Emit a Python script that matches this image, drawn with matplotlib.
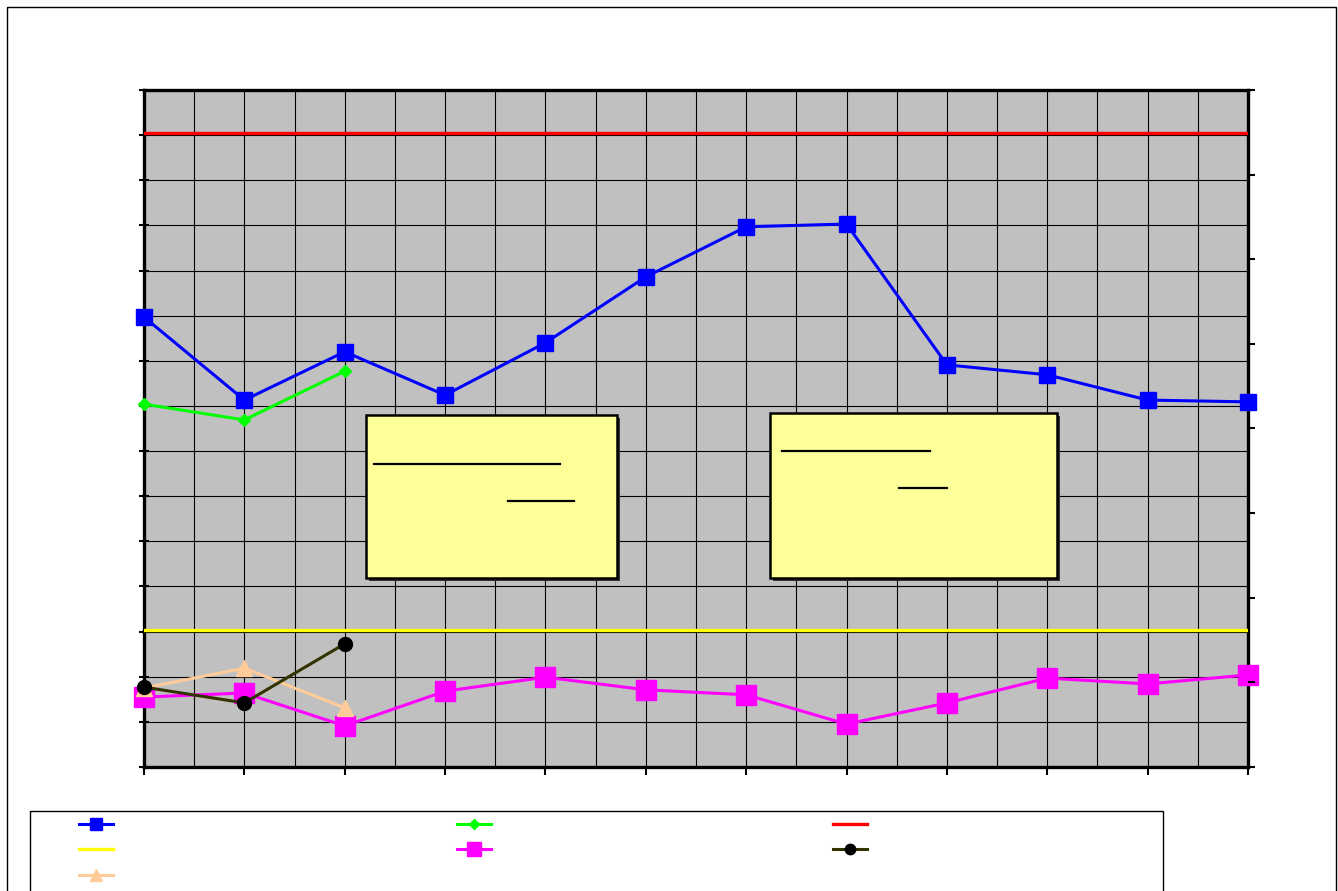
import matplotlib.pyplot as plt
from matplotlib.patches import Rectangle
from matplotlib.lines import Line2D
import numpy as np

# ── data ──────────────────────────────────────
x_idx = np.arange(12)

blue_vals    = [9.97, 8.13, 9.20, 8.24, 9.40, 10.86, 11.97, 12.03, 8.91, 8.69, 8.13, 8.09]
green_vals   = [8.04, 7.69, 8.77]
magenta_vals = [1.55, 1.64, 0.91, 1.68, 1.99, 1.71, 1.60, 0.95, 1.42, 1.97, 1.84, 2.04]
black_vals   = [1.77, 1.42, 2.73]
peach_vals   = [1.75, 2.19, 1.31]
upper_limit  = 14.05
lower_limit  = 3.04

# ── styles ────────────────────────────────────
STYLES = {
    "blue":    dict(color="#0000FF", marker="s", markersize=11.5, lw=2.2),
    "green":   dict(color="#00FF00", marker="D", markersize=6.5, lw=2.2),
    "red":     dict(color="#FF0000", marker=None, lw=2.4),
    "yellow":  dict(color="#FFFF00", marker=None, lw=2.4),
    "magenta": dict(color="#FF00FF", marker="s", markersize=14, lw=2.2),
    "black":   dict(color="#333300", marker="o", markersize=10, lw=2.2,
                    markerfacecolor="black", markeredgecolor="black"),
    "peach":   dict(color="#FFCC99", marker="^", markersize=12, lw=2.2),
}

W, H = 1338, 891
fig = plt.figure(figsize=(W / 100, H / 100), dpi=100)
fig.patch.set_facecolor("white")

ax = fig.add_axes([144 / W, 1 - 767 / H, (1248 - 144) / W, (767 - 90) / H])
ax.set_facecolor("#C0C0C0")
ax.set_xlim(0, 11)
ax.set_ylim(0, 15)

ax.set_xticks(np.arange(12))
ax.set_xticks(np.arange(0.5, 11, 1), minor=True)
ax.set_yticks(np.arange(16))
ax.grid(True, which="both", color="black", lw=0.8, zorder=1)
ax.set_axisbelow(True)
ax.tick_params(axis="x", which="major", direction="out", length=6, width=1.5,
               labelbottom=False)
ax.tick_params(axis="x", which="minor", length=0)
ax.tick_params(axis="y", direction="inout", length=7, width=1.5, labelleft=False)
for sp in ax.spines.values():
    sp.set_linewidth(2.4)

ax2 = ax.twinx()
ax2.set_ylim(0, 8)
ax2.set_yticks(np.arange(9))
ax2.tick_params(axis="y", direction="out", length=5, width=1.5, labelright=False)
for sp in ax2.spines.values():
    sp.set_visible(False)

# ── series ────────────────────────────────────
ax.axhline(upper_limit, **{k: v for k, v in STYLES["red"].items() if k != "marker"}, zorder=3)
ax.axhline(lower_limit, **{k: v for k, v in STYLES["yellow"].items() if k != "marker"}, zorder=3)
ax.plot(x_idx, blue_vals, zorder=4, clip_on=False, **STYLES["blue"])
ax.plot(x_idx[:3], green_vals, zorder=4, clip_on=False, **STYLES["green"])
ax.plot(x_idx, magenta_vals, zorder=4, clip_on=False, **STYLES["magenta"])
ax.plot(x_idx[:3], peach_vals, zorder=5, clip_on=False, **STYLES["peach"])
ax.plot(x_idx[:3], black_vals, zorder=5, clip_on=False, **STYLES["black"])

# ── overlay in pixel units: frame, note boxes, legend ──
ov = fig.add_axes([0, 0, 1, 1], zorder=10)
ov.set_xlim(0, W)
ov.set_ylim(H, 0)
ov.axis("off")
ov.patch.set_alpha(0)

ov.add_patch(Rectangle((7, 7), 1329, 950, fill=False, ec="black", lw=1))


def note_box(x0, y0, x1, y1, bars):
    ov.add_patch(Rectangle((x0 + 3, y0 + 3), x1 - x0, y1 - y0, fc="#333333", ec="none"))
    ov.add_patch(Rectangle((x0, y0), x1 - x0, y1 - y0, fc="#FFFF99", ec="black", lw=1.8))
    for bx0, bx1, by in bars:
        ov.plot([bx0, bx1], [by, by], color="black", lw=1.6)


note_box(366, 415, 617, 578, [(374, 560, 464), (508, 574, 501)])
note_box(770, 413, 1057, 578, [(782, 930, 451), (899, 947, 488)])

# legend frame and keys
ov.add_patch(Rectangle((30, 811), 1133, 120, fill=False, ec="black", lw=1))
legend_keys = [
    ("blue", 96, 824), ("green", 474, 824), ("red", 850, 824),
    ("yellow", 96, 849), ("magenta", 474, 849), ("black", 850, 849),
    ("peach", 96, 875),
]
for name, cx, cy in legend_keys:
    st = dict(STYLES[name])
    if st.get("marker"):
        st["markersize"] = st["markersize"] * 0.75
    ov.add_line(Line2D([cx - 17, cx, cx + 17], [cy, cy, cy], markevery=[1], **st))

fig.savefig("out.png", dpi=100)
